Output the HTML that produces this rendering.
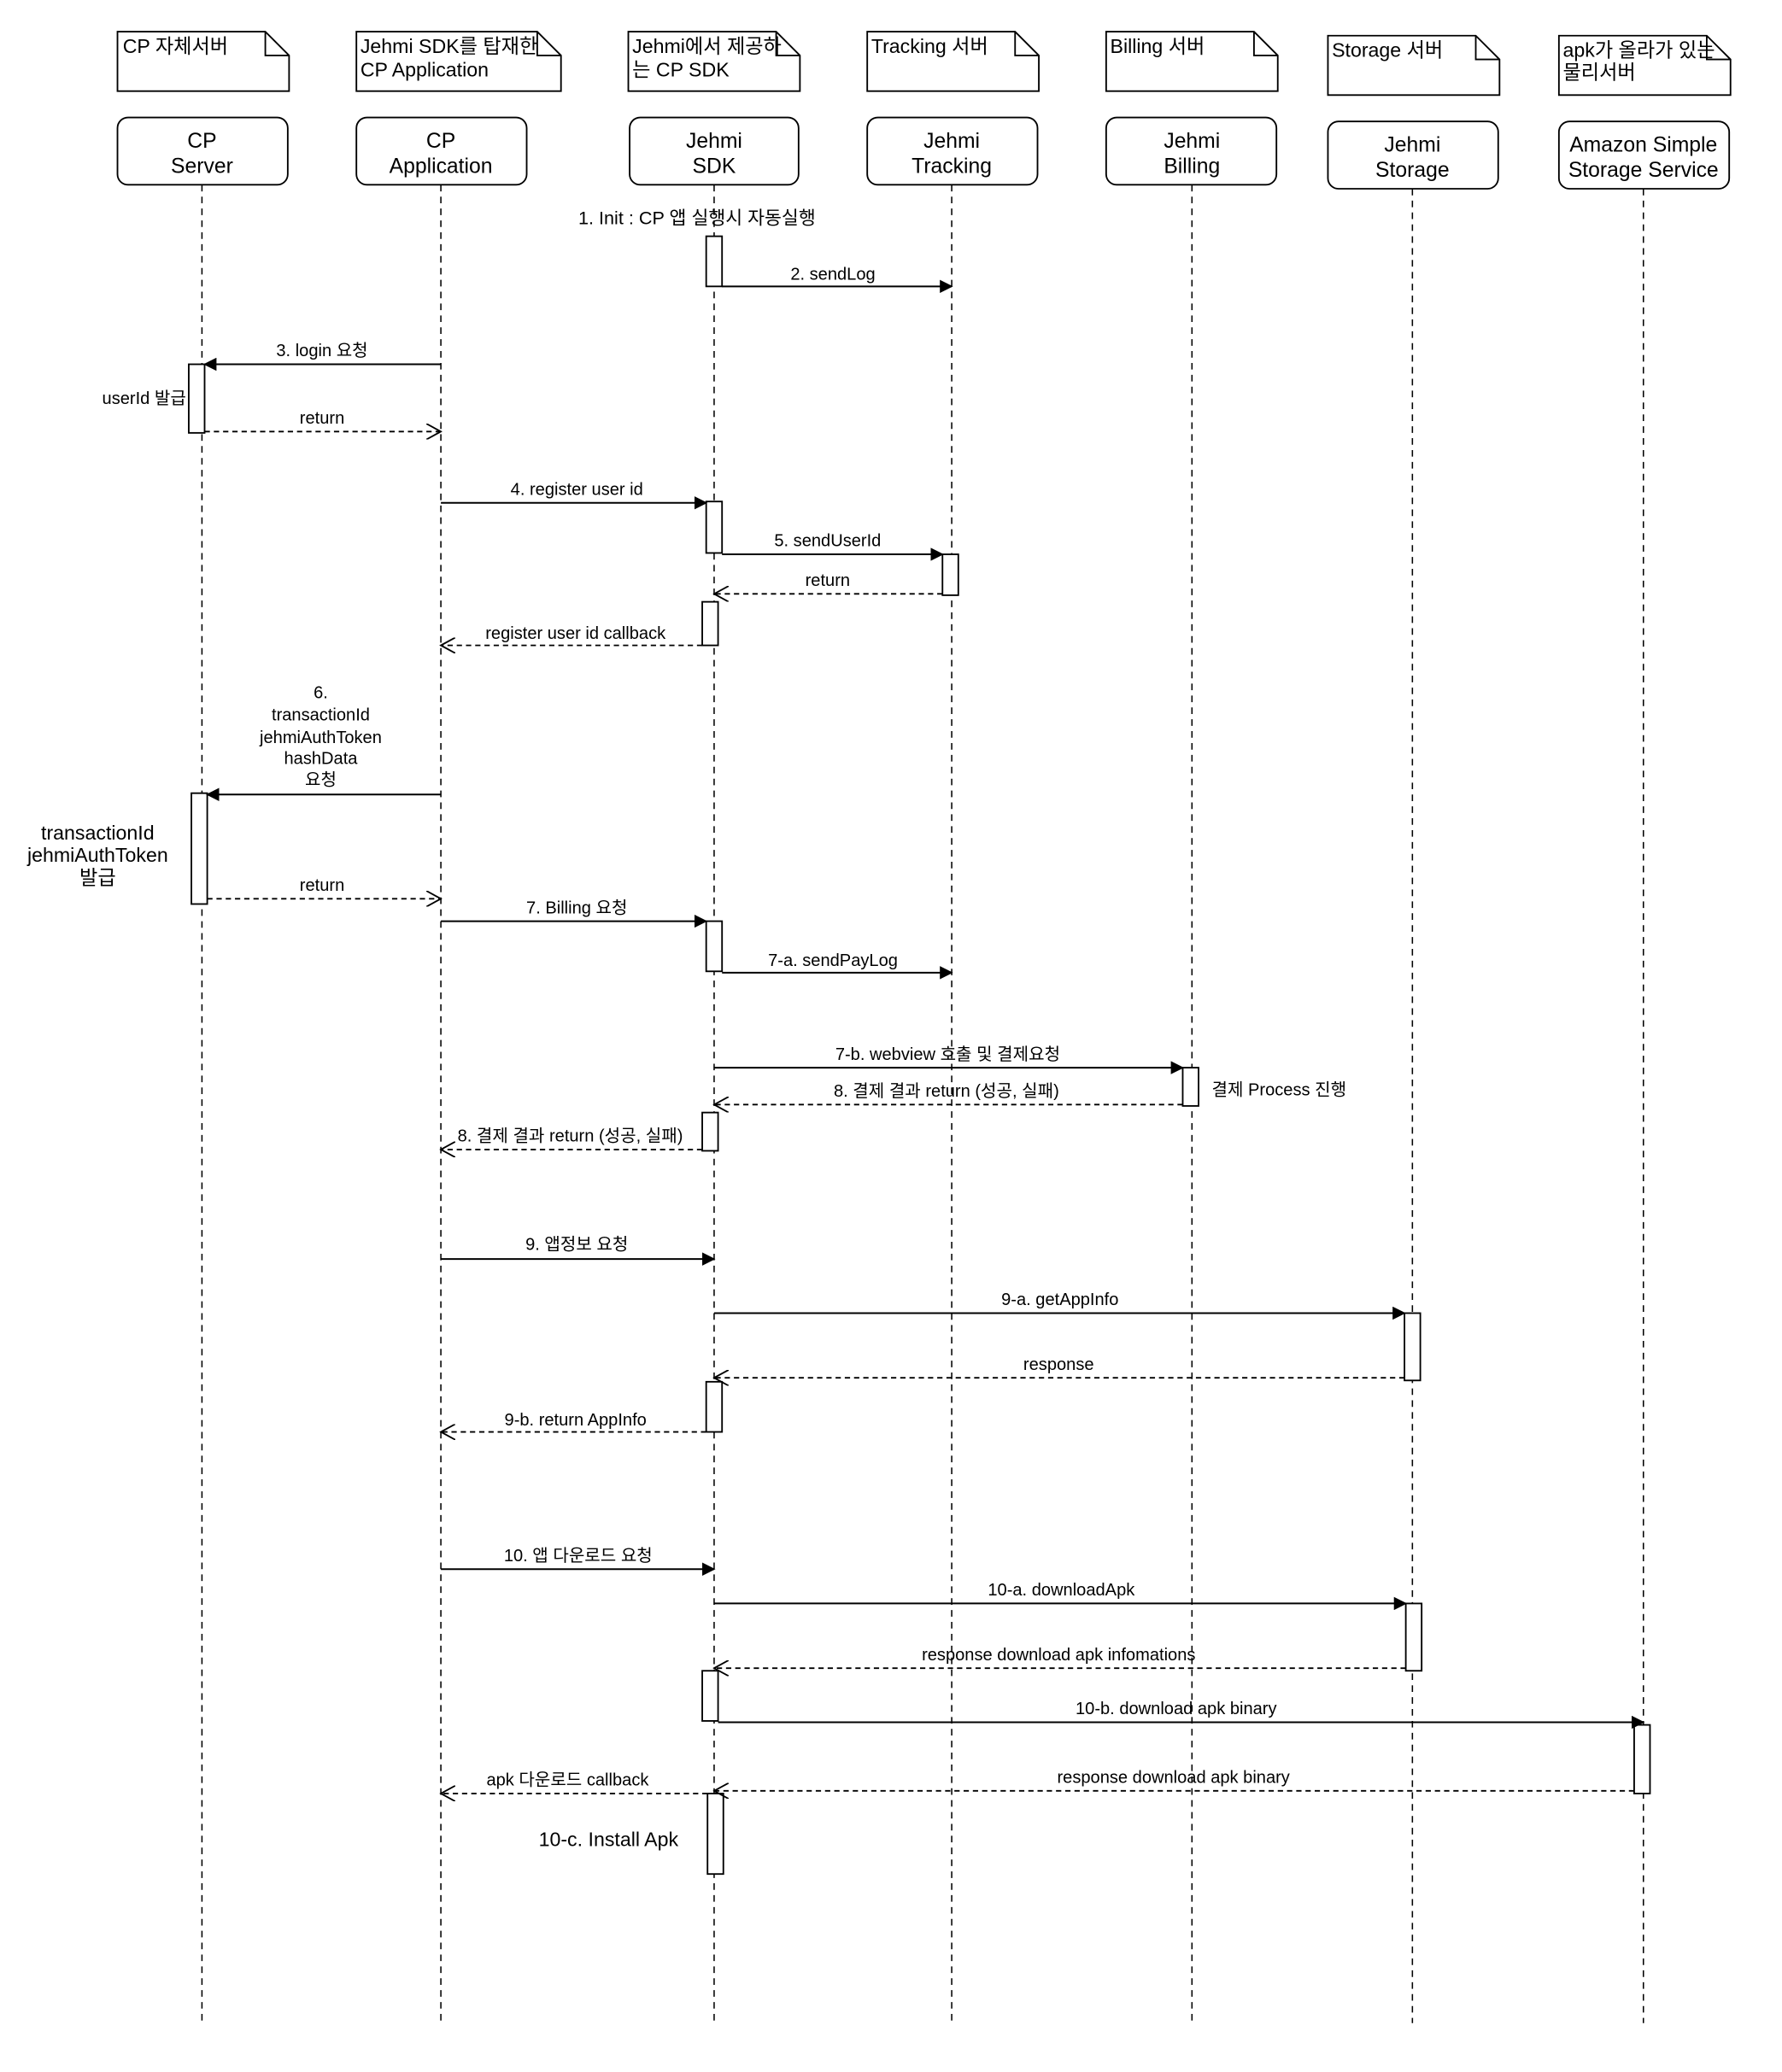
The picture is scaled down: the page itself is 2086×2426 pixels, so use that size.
<!DOCTYPE html>
<html><head><meta charset="utf-8"><style>
html,body{margin:0;padding:0;background:#fff;}
svg{display:block;}
text{font-family:"Liberation Sans","Noto Sans CJK KR",sans-serif;fill:#000;}
.m{font-size:13px;text-anchor:middle;}
.p{font-size:16px;text-anchor:middle;}
.n{font-size:15px;}
</style></head><body>
<svg width="2086" height="2426" viewBox="0 0 1350 1570" xmlns="http://www.w3.org/2000/svg">
<defs>
<marker id="f" markerWidth="10" markerHeight="10" refX="9" refY="5" orient="auto" markerUnits="userSpaceOnUse"><path d="M0,0 L10,5 L0,10 z" fill="#000"/></marker>
<marker id="o" markerWidth="12" markerHeight="12" refX="11" refY="6" orient="auto" markerUnits="userSpaceOnUse"><path d="M0,0 L11,6 L0,12" fill="none" stroke="#000" stroke-width="1.2"/></marker>
</defs>
<g fill="#fff" stroke="#000" stroke-width="1.2">
<!-- notes -->
<path d="M89,24 H201 L219,42 V69 H89 Z M201,24 V42 H219"/>
<path d="M270,24 H407 L425,42 V69 H270 Z M407,24 V42 H425"/>
<path d="M476,24 H588 L606,42 V69 H476 Z M588,24 V42 H606"/>
<path d="M657,24 H769 L787,42 V69 H657 Z M769,24 V42 H787"/>
<path d="M838,24 H950 L968,42 V69 H838 Z M950,24 V42 H968"/>
<path d="M1006,27 H1118 L1136,45 V72 H1006 Z M1118,27 V45 H1136"/>
<path d="M1181,27 H1293 L1311,45 V72 H1181 Z M1293,27 V45 H1311"/>
<!-- participants -->
<rect x="89" y="89" width="129" height="51" rx="8"/>
<rect x="270" y="89" width="129" height="51" rx="8"/>
<rect x="477" y="89" width="128" height="51" rx="8"/>
<rect x="657" y="89" width="129" height="51" rx="8"/>
<rect x="838" y="89" width="129" height="51" rx="8"/>
<rect x="1006" y="92" width="129" height="51" rx="8"/>
<rect x="1181" y="92" width="129" height="51" rx="8"/>
</g>
<g stroke="#000" stroke-width="1" stroke-dasharray="5,4">
<line x1="153" y1="140" x2="153" y2="1533"/>
<line x1="334" y1="140" x2="334" y2="1533"/>
<line x1="541" y1="140" x2="541" y2="1533"/>
<line x1="721" y1="140" x2="721" y2="1533"/>
<line x1="903" y1="140" x2="903" y2="1533"/>
<line x1="1070" y1="143" x2="1070" y2="1533"/>
<line x1="1245" y1="143" x2="1245" y2="1533"/>
</g>
<g class="n">
<text x="93" y="40" class="n">CP 자체서버</text>
<text x="273" y="40" class="n">Jehmi SDK를 탑재한</text><text x="273" y="58" class="n">CP Application</text>
<text x="479" y="40" class="n">Jehmi에서 제공하</text><text x="479" y="58" class="n">는 CP SDK</text>
<text x="660" y="40" class="n">Tracking 서버</text>
<text x="841" y="40" class="n">Billing 서버</text>
<text x="1009" y="43" class="n">Storage 서버</text>
<text x="1184" y="43" class="n">apk가 올라가 있는</text><text x="1184" y="60" class="n">물리서버</text>
</g>
<text x="153" y="112" class="p">CP</text><text x="153" y="131" class="p">Server</text>
<text x="334" y="112" class="p">CP</text><text x="334" y="131" class="p">Application</text>
<text x="541" y="112" class="p">Jehmi</text><text x="541" y="131" class="p">SDK</text>
<text x="721" y="112" class="p">Jehmi</text><text x="721" y="131" class="p">Tracking</text>
<text x="903" y="112" class="p">Jehmi</text><text x="903" y="131" class="p">Billing</text>
<text x="1070" y="115" class="p">Jehmi</text><text x="1070" y="134" class="p">Storage</text>
<text x="1245" y="115" class="p">Amazon Simple</text><text x="1245" y="134" class="p">Storage Service</text>
<!-- activations -->
<g fill="#fff" stroke="#000" stroke-width="1.2">
<rect x="535" y="179" width="12" height="38"/>
<rect x="143" y="276" width="12" height="52"/>
<rect x="535" y="380" width="12" height="39"/>
<rect x="714" y="420" width="12" height="31"/>
<rect x="532" y="456" width="12" height="33"/>
<rect x="145" y="601" width="12" height="84"/>
<rect x="535" y="698" width="12" height="38"/>
<rect x="896" y="809" width="12" height="29"/>
<rect x="532" y="843" width="12" height="29"/>
<rect x="1064" y="995" width="12" height="51"/>
<rect x="535" y="1047" width="12" height="38"/>
<rect x="1065" y="1215" width="12" height="51"/>
<rect x="532" y="1266" width="12" height="38"/>
<rect x="1238" y="1307" width="12" height="52"/>
<rect x="536" y="1359" width="12" height="61"/>
</g>
<!-- solid messages -->
<g stroke="#000" stroke-width="1.3" marker-end="url(#f)">
<line x1="547" y1="217" x2="721" y2="217"/>
<line x1="334" y1="276" x2="155" y2="276"/>
<line x1="334" y1="381" x2="535" y2="381"/>
<line x1="547" y1="420" x2="714" y2="420"/>
<line x1="334" y1="602" x2="157" y2="602"/>
<line x1="334" y1="698" x2="535" y2="698"/>
<line x1="547" y1="737" x2="721" y2="737"/>
<line x1="541" y1="809" x2="896" y2="809"/>
<line x1="334" y1="954" x2="541" y2="954"/>
<line x1="541" y1="995" x2="1064" y2="995"/>
<line x1="334" y1="1189" x2="541" y2="1189"/>
<line x1="541" y1="1215" x2="1065" y2="1215"/>
<line x1="544" y1="1305" x2="1245" y2="1305"/>
</g>
<!-- dashed returns -->
<g stroke="#000" stroke-width="1.2" stroke-dasharray="4,3" marker-end="url(#o)">
<line x1="155" y1="327" x2="334" y2="327"/>
<line x1="714" y1="450" x2="541" y2="450"/>
<line x1="532" y1="489" x2="334" y2="489"/>
<line x1="157" y1="681" x2="334" y2="681"/>
<line x1="896" y1="837" x2="541" y2="837"/>
<line x1="532" y1="871" x2="334" y2="871"/>
<line x1="1064" y1="1044" x2="541" y2="1044"/>
<line x1="535" y1="1085" x2="334" y2="1085"/>
<line x1="1065" y1="1264" x2="541" y2="1264"/>
<line x1="1238" y1="1357" x2="541" y2="1357"/>
<line x1="536" y1="1359" x2="334" y2="1359"/>
</g>
<!-- labels -->
<text x="528" y="170" class="m" style="font-size:14px">1. Init : CP 앱 실행시 자동실행</text>
<text x="631" y="212" class="m">2. sendLog</text>
<text x="244" y="270" class="m">3. login 요청</text>
<text x="141" y="306" class="m" style="text-anchor:end">userId 발급</text>
<text x="244" y="321" class="m">return</text>
<text x="437" y="375" class="m">4. register user id</text>
<text x="627" y="414" class="m">5. sendUserId</text>
<text x="627" y="444" class="m">return</text>
<text x="436" y="484" class="m">register user id callback</text>
<text x="243" y="529" class="m">6.</text>
<text x="243" y="546" class="m">transactionId</text>
<text x="243" y="563" class="m">jehmiAuthToken</text>
<text x="243" y="579" class="m">hashData</text>
<text x="243" y="595" class="m">요청</text>
<text x="74" y="636" class="m" style="font-size:15px">transactionId</text>
<text x="74" y="653" class="m" style="font-size:15px">jehmiAuthToken</text>
<text x="74" y="670" class="m" style="font-size:15px">발급</text>
<text x="244" y="675" class="m">return</text>
<text x="437" y="692" class="m">7. Billing 요청</text>
<text x="631" y="732" class="m">7-a. sendPayLog</text>
<text x="718" y="803" class="m">7-b. webview 호출 및 결제요청</text>
<text x="717" y="831" class="m">8. 결제 결과 return (성공, 실패)</text>
<text x="918" y="830" class="m" style="text-anchor:start">결제 Process 진행</text>
<text x="432" y="865" class="m">8. 결제 결과 return (성공, 실패)</text>
<text x="437" y="947" class="m">9. 앱정보 요청</text>
<text x="803" y="989" class="m">9-a. getAppInfo</text>
<text x="802" y="1038" class="m">response</text>
<text x="436" y="1080" class="m">9-b. return AppInfo</text>
<text x="438" y="1183" class="m">10. 앱 다운로드 요청</text>
<text x="804" y="1209" class="m">10-a. downloadApk</text>
<text x="802" y="1258" class="m">response download apk infomations</text>
<text x="891" y="1299" class="m">10-b. download apk binary</text>
<text x="889" y="1351" class="m">response download apk binary</text>
<text x="430" y="1353" class="m">apk 다운로드 callback</text>
<text x="461" y="1399" class="m" style="font-size:15px">10-c. Install Apk</text>
</svg>
</body></html>
